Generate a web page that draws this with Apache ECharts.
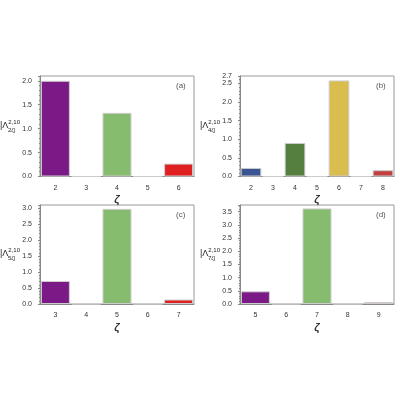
<!DOCTYPE html><html><head><meta charset="utf-8"><script src="https://cdn.jsdelivr.net/npm/echarts@6/dist/echarts.min.js"></script></head><body style="margin:0"><div id="c" style="width:400px;height:400px"></div><script>
const catsA=['2','3','4','5','6'], valsA=[2.0,0,1.33,0,0.27], colA=['#7b1a86','#ccc','#86bc6e','#ccc','#e02020'];
const catsB=['2','3','4','5','6','7','8'], valsB=[0.23,0,0.9,0,2.58,0,0.17], colB=['#3a5592','#ccc','#557f3f','#ccc','#d9bd4f','#ccc','#c0403f'];
const catsC=['3','4','5','6','7'], valsC=[0.72,0,2.98,0,0.14], colC=['#7b1a86','#ccc','#86bc6e','#ccc','#e02020'];
const catsD=['5','6','7','8','9'], valsD=[0.48,0,3.62,0,0.07], colD=['#7b1a86','#ccc','#86bc6e','#ccc','#e02020'];
const panels=[
 {cats:catsA,vals:valsA,col:colA,sub:'2',label:'(a)',max:2.1,int:0.5,l:40,t:76,b:176.5},
 {cats:catsB,vals:valsB,col:colB,sub:'4',label:'(b)',max:2.7,int:0.5,l:240,t:76,b:176.5},
 {cats:catsC,vals:valsC,col:colC,sub:'5',label:'(c)',max:3.1,int:0.5,l:40,t:205,b:304},
 {cats:catsD,vals:valsD,col:colD,sub:'7',label:'(d)',max:3.75,int:0.5,l:240,t:205,b:304}];
const grid=[],xAxis=[],yAxis=[],series=[],graphic=[];
panels.forEach((p,i)=>{
 const w=154;
 grid.push({left:p.l,top:p.t,width:w,height:p.b-p.t,show:true,borderColor:'#999',borderWidth:1});
 xAxis.push({type:'category',gridIndex:i,data:p.cats,name:'ζ',nameLocation:'middle',nameGap:18,nameTextStyle:{fontSize:11,fontStyle:'italic',fontWeight:'bold',color:'#333'},axisLabel:{fontSize:7,color:'#333'},axisTick:{show:false},axisLine:{lineStyle:{color:'#888'}}});
 yAxis.push({type:'value',gridIndex:i,min:0,max:p.max,interval:p.int,splitLine:{show:false},axisLine:{show:true,lineStyle:{color:'#888'}},axisTick:{show:true,length:2},minorTick:{show:true,splitNumber:5,length:1},axisLabel:{fontSize:7,color:'#333',formatter:v=>v.toFixed(1)}});
 series.push({type:'bar',xAxisIndex:i,yAxisIndex:i,barCategoryGap:'6%',data:p.vals.map((v,j)=>({value:v,itemStyle:{color:p.col[j],borderColor:'#ccc',borderWidth:1}}))});
 graphic.push({type:'text',left:p.l+w-18,top:p.t+6,style:{text:p.label,fontSize:8,fill:'#555'}});
 graphic.push({type:'text',x:p.l-40,y:(p.t+p.b)/2-7,style:{text:'|Λ{s|2,10}',fontSize:9,fill:'#222',rich:{s:{fontSize:6,verticalAlign:'top',padding:[0,0,6,0]}}}});
 graphic.push({type:'text',x:p.l-32,y:(p.t+p.b)/2+1,style:{text:p.sub+'ζ|',fontSize:6,fill:'#222'}});
});
echarts.init(document.getElementById('c')).setOption({animation:false,grid,xAxis,yAxis,series,graphic});
</script></body></html>
